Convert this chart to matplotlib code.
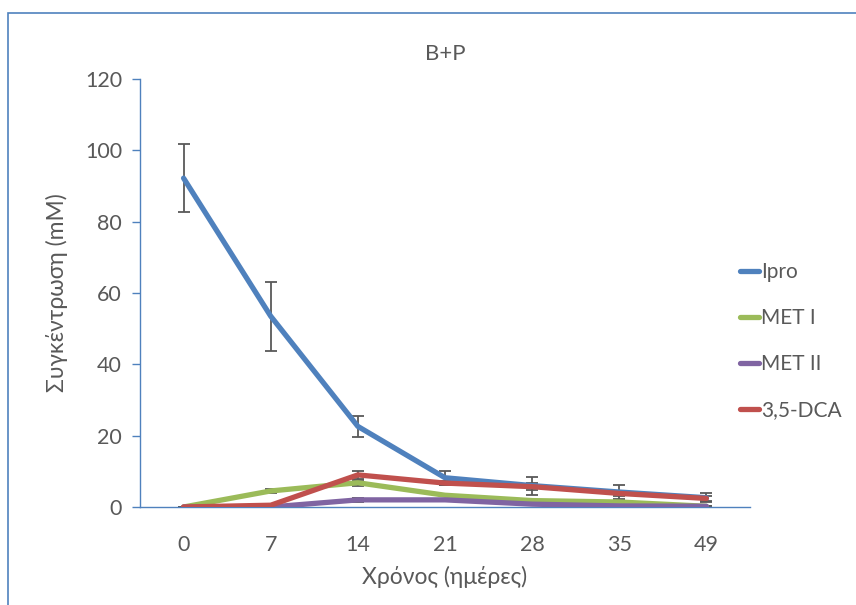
import matplotlib
matplotlib.use("Agg")
import matplotlib.pyplot as plt
from matplotlib.patches import Rectangle

days = ["0", "7", "14", "21", "28", "35", "49"]
ipro = [92.2, 53.5, 22.6, 8.2, 6.0, 4.2, 2.6]
ipro_err = [9.6, 9.7, 3.0, 2.0, 2.5, 2.0, 1.3]
met1 = [0.0, 4.5, 6.8, 3.3, 1.8, 1.4, 0.2]
met1_err = [0.0, 0.5, 0.8, 0.3, 0.3, 0.2, 0.1]
met2 = [0.0, 0.0, 2.0, 2.0, 0.8, 0.3, 0.2]
met2_err = [0.0, 0.0, 0.6, 0.2, 0.2, 0.1, 0.1]
dca = [0.0, 0.5, 9.0, 6.7, 5.7, 3.8, 2.4]
dca_err = [0.0, 0.2, 1.2, 0.5, 1.0, 0.8, 0.8]

series = [
    ("Ipro", ipro, ipro_err, "#4F81BD"),
    ("MET I", met1, met1_err, "#9BBB59"),
    ("MET II", met2, met2_err, "#8064A2"),
    ("3,5-DCA", dca, dca_err, "#C0504D"),
]

plt.rcParams['font.family'] = ['Lato', 'DejaVu Sans']
txt = "#595959"
axc = "#4F81BD"

fig = plt.figure(figsize=(8.56, 6.05), dpi=100)
fig.patches.append(Rectangle((8/856, 0 - 0.01), 1.0, 1 - 13/605 + 0.01,
                             transform=fig.transFigure, fill=False,
                             edgecolor="#4F81BD", linewidth=1.2))
ax = fig.add_axes([140/856, 1 - 507/605, 610/856, 428/605])
x = list(range(len(days)))

for name, vals, errs, col in series:
    ax.errorbar(x, vals, yerr=errs, fmt='none', ecolor="#595959",
                elinewidth=1.3, capsize=4.5, capthick=1.3, zorder=2)
for name, vals, errs, col in series:
    ax.plot(x, vals, color=col, linewidth=3.8, solid_capstyle='round',
            solid_joinstyle='round', label=name, zorder=3)

ax.set_xlim(-0.5, 6.5)
ax.set_ylim(0, 120)
ax.set_yticks(range(0, 121, 20))
ax.set_xticks(x)
ax.set_xticklabels(days)
for s in ["top", "right"]:
    ax.spines[s].set_visible(False)
for s in ["left", "bottom"]:
    ax.spines[s].set_color(axc)
    ax.spines[s].set_linewidth(1.0)
ax.tick_params(axis='y', colors=axc, labelcolor=txt, labelsize=15.5,
               length=6, width=1.0, pad=7)
ax.tick_params(axis='x', length=0, labelcolor=txt, labelsize=15.5, pad=20)

ax.set_title("B+P", color=txt, fontsize=16, pad=14)
ax.set_ylabel("Συγκέντρωση (mM)", color=txt, fontsize=16.5, labelpad=12)
ax.set_xlabel("Χρόνος (ημέρες)", color=txt, fontsize=16.5, labelpad=8)

leg = ax.legend(loc='center left', bbox_to_anchor=(740/856, 1 - 341/605),
                bbox_transform=fig.transFigure, frameon=False,
                fontsize=15, handlelength=0.9, handletextpad=0.1,
                labelspacing=1.25, borderpad=0, borderaxespad=0)
for t in leg.get_texts():
    t.set_color(txt)

fig.savefig("out.png", dpi=100)
